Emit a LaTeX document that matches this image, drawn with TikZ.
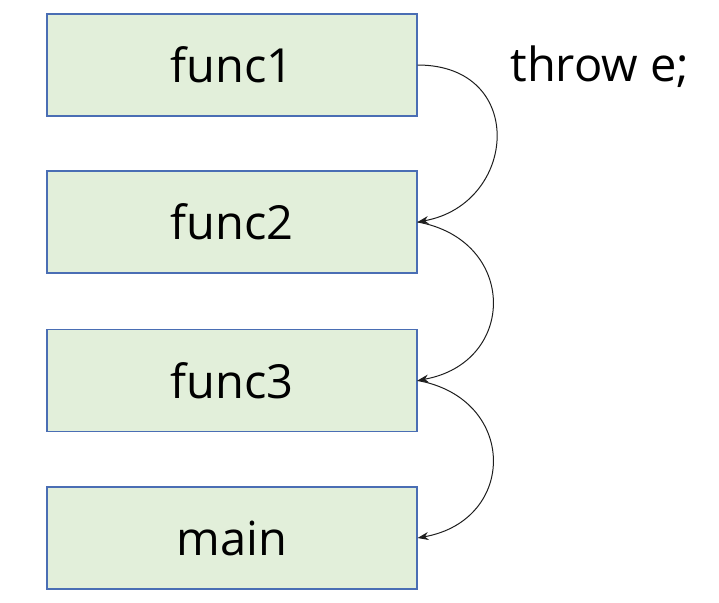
\documentclass[tikz,border=0pt]{standalone}
\usepackage{fontspec}
\setmainfont{Open Sans}
\usetikzlibrary{arrows.meta}
\definecolor{boxfill}{RGB}{226,239,218}
\definecolor{boxline}{RGB}{74,110,180}
\definecolor{arrowcol}{RGB}{30,30,30}
\begin{document}
\begin{tikzpicture}[x=1pt,y=-1pt,
  fbox/.style={draw=boxline, line width=1.1pt, fill=boxfill, minimum width=370pt, minimum height=102pt, inner sep=0pt, font=\fontsize{47}{52}\selectfont},
  callarrow/.style={draw=arrowcol, line width=1pt, -{Stealth[length=11pt,width=8pt]}}]
\useasboundingbox (0,0) rectangle (719,602);
\node[fbox] (f1) at (232,65) {func1};
\node[fbox] (f2) at (232,222) {func2};
\node[fbox] (f3) at (232,380.5) {func3};
\node[fbox] (m) at (232,538) {main};
\node[font=\fontsize{47}{52}\selectfont, anchor=west] (t) at (507,67) {throw e;};
\draw[callarrow] (f1.east) .. controls +(110,0) and +(100,-18) .. (f2.east);
\draw[callarrow] (f2.east) .. controls +(100,18) and +(100,-18) .. (f3.east);
\draw[callarrow] (f3.east) .. controls +(100,18) and +(100,-18) .. (m.east);
\end{tikzpicture}
\end{document}
